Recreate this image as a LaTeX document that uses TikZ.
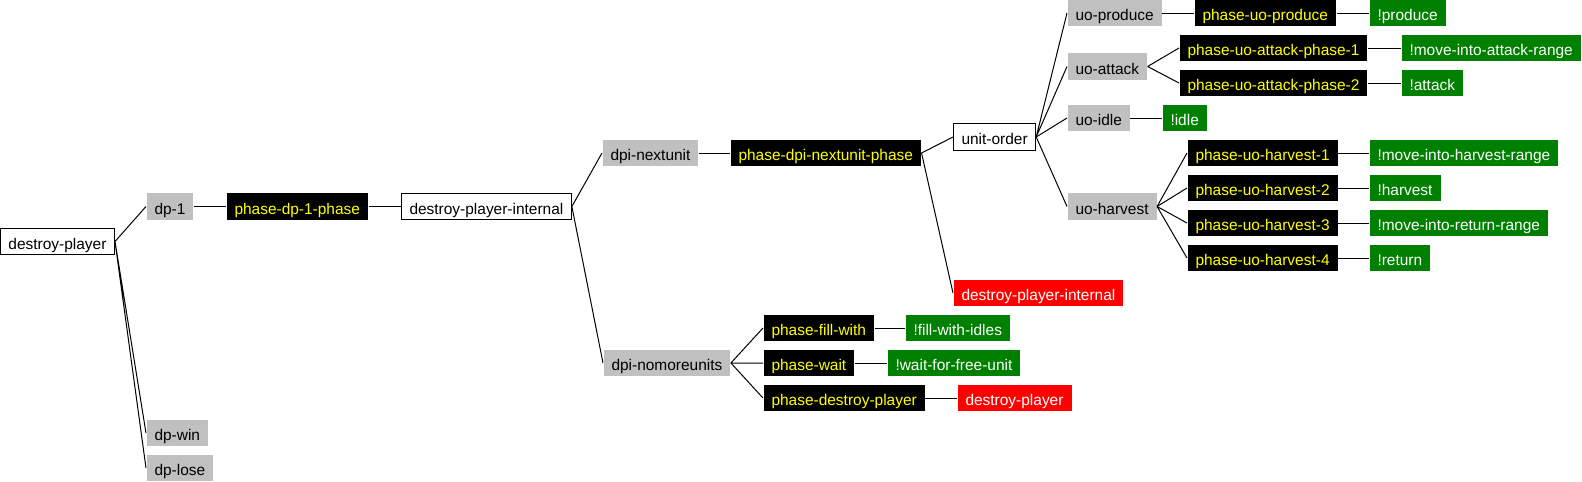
\documentclass[tikz,border=0pt]{standalone}
\usepackage{fontspec}
\setmainfont{Liberation Sans}
\definecolor{goalGray}{HTML}{C0C0C0}
\definecolor{phaseYellow}{HTML}{FFFF00}
\definecolor{actGreen}{HTML}{008000}
\definecolor{callRed}{HTML}{FF0000}

\begin{document}
\begin{tikzpicture}[x=0.75pt, y=-0.75pt, line width=0.75pt,
    box/.style={anchor=west, inner xsep=6pt, inner ysep=0pt, minimum height=20pt,
        text height=11.6pt, text depth=0pt, font=\fontsize{11.6}{13}\selectfont},
    opbox/.style={box, draw=black, fill=white},
    goalbox/.style={box, fill=goalGray},
    phasebox/.style={box, fill=black, text=phaseYellow},
    actbox/.style={box, fill=actGreen, text=white},
    callbox/.style={box, fill=callRed, text=white}]
    \useasboundingbox (0,0) rectangle (1582,482);

    % left part
    \node[opbox] (dp) at (0,241.5) {destroy-player};
    \node[goalbox] (dp1) at (146,206.5) {dp-1};
    \node[phasebox] (phdp1) at (226,206.5) {phase-dp-1-phase};
    \node[goalbox] (dpwin) at (146,433) {dp-win};
    \node[goalbox] (dplose) at (146,468) {dp-lose};
    \node[opbox] (dpi) at (401,206.5) {destroy-player-internal};

    % next unit
    \node[goalbox] (dpinext) at (602,153) {dpi-nextunit};
    \node[phasebox] (phnext) at (730,153) {phase-dpi-nextunit-phase};
    \node[opbox] (uorder) at (953,137) {unit-order};
    \node[callbox] (dpiagain) at (953,293) {destroy-player-internal};

    \node[goalbox] (uoprod) at (1067,13) {uo-produce};
    \node[phasebox] (phprod) at (1194,13) {phase-uo-produce};
    \node[actbox] (prod) at (1369,13) {!produce};

    \node[goalbox] (uoatt) at (1067,66.5) {uo-attack};
    \node[phasebox] (phatt1) at (1179,48) {phase-uo-attack-phase-1};
    \node[phasebox] (phatt2) at (1179,83) {phase-uo-attack-phase-2};
    \node[actbox] (moveatt) at (1401,48) {!move-into-attack-range};
    \node[actbox] (att) at (1401,83) {!attack};

    \node[goalbox] (uoidle) at (1067,118) {uo-idle};
    \node[actbox] (idle) at (1162,118) {!idle};

    \node[goalbox] (uoharv) at (1067,206.5) {uo-harvest};
    \node[phasebox] (phharv1) at (1187,153) {phase-uo-harvest-1};
    \node[phasebox] (phharv2) at (1187,188) {phase-uo-harvest-2};
    \node[phasebox] (phharv3) at (1187,223) {phase-uo-harvest-3};
    \node[phasebox] (phharv4) at (1187,258) {phase-uo-harvest-4};
    \node[actbox] (moveharv) at (1369,153) {!move-into-harvest-range};
    \node[actbox] (harv) at (1369,188) {!harvest};
    \node[actbox] (moveret) at (1369,223) {!move-into-return-range};
    \node[actbox] (ret) at (1369,258) {!return};

    % no more units
    \node[goalbox] (dpinomore) at (603,363) {dpi-nomoreunits};
    \node[phasebox] (phfill) at (763,328) {phase-fill-with};
    \node[actbox] (fill) at (905,328) {!fill-with-idles};
    \node[phasebox] (phwait) at (763,363) {phase-wait};
    \node[actbox] (wait) at (887,363) {!wait-for-free-unit};
    \node[phasebox] (phdp) at (763,398) {phase-destroy-player};
    \node[callbox] (dpagain) at (957,398) {destroy-player};

    % links
    \draw (dp.east) -- (dp1.west) (dp.east) -- (dpwin.west) (dp.east) -- (dplose.west);
    \draw (dp1) -- (phdp1) -- (dpi);
    \draw (dpi.east) -- (dpinext.west) (dpi.east) -- (dpinomore.west);
    \draw (dpinext) -- (phnext);
    \draw (phnext.east) -- (uorder.west) (phnext.east) -- (dpiagain.west);
    \draw (uorder.east) -- (uoprod.west) (uorder.east) -- (uoatt.west);
    \draw (uorder.east) -- (uoidle.west) (uorder.east) -- (uoharv.west);
    \draw (uoprod) -- (phprod) -- (prod);
    \draw (uoatt.east) -- (phatt1.west) (uoatt.east) -- (phatt2.west);
    \draw (phatt1) -- (moveatt) (phatt2) -- (att);
    \draw (uoidle) -- (idle);
    \draw (uoharv.east) -- (phharv1.west) (uoharv.east) -- (phharv2.west);
    \draw (uoharv.east) -- (phharv3.west) (uoharv.east) -- (phharv4.west);
    \draw (phharv1) -- (moveharv) (phharv2) -- (harv);
    \draw (phharv3) -- (moveret) (phharv4) -- (ret);
    \draw (dpinomore.east) -- (phfill.west) (dpinomore.east) -- (phwait.west);
    \draw (dpinomore.east) -- (phdp.west);
    \draw (phfill) -- (fill) (phwait) -- (wait) (phdp) -- (dpagain);
\end{tikzpicture}
\end{document}
